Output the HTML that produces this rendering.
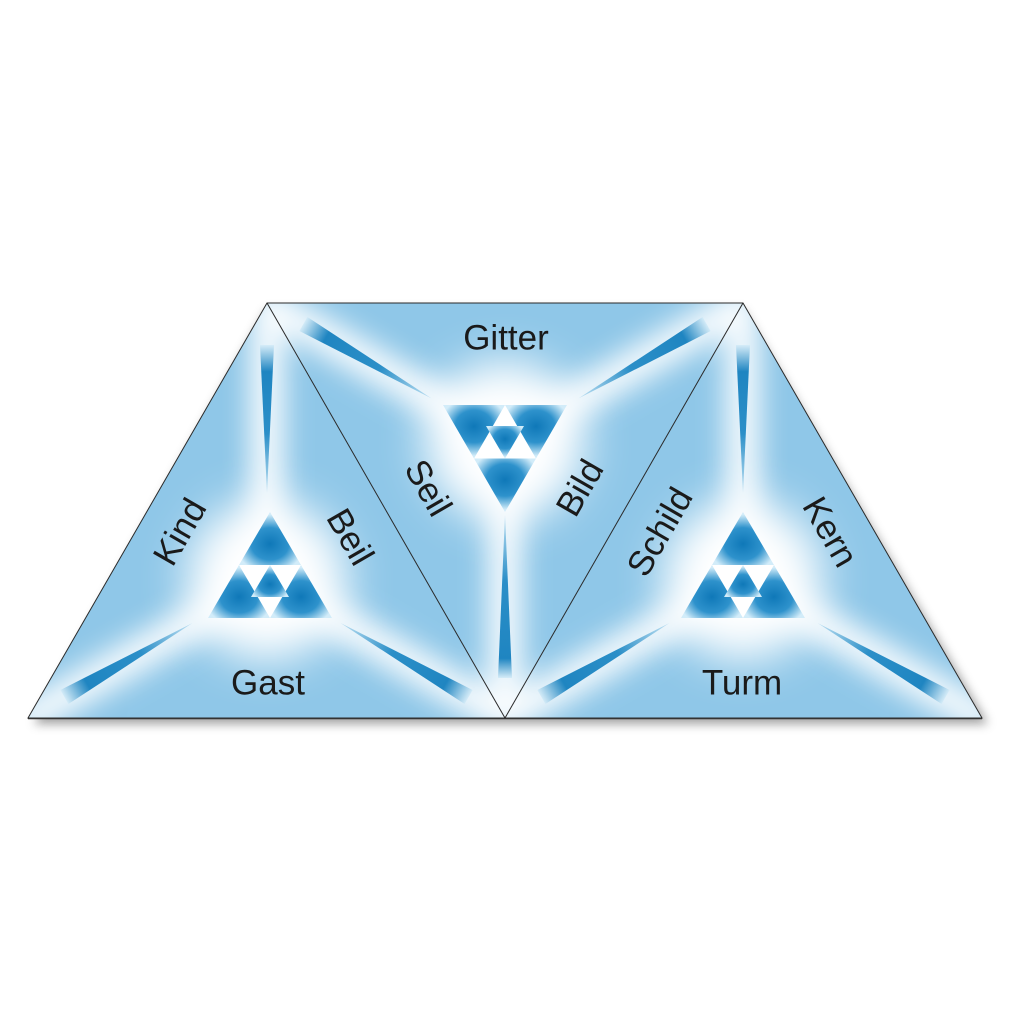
<!DOCTYPE html>
<html><head><meta charset="utf-8"><style>html,body{margin:0;padding:0;background:#fff}svg{display:block}</style></head>
<body>
<svg width="1024" height="1024" viewBox="0 0 1024 1024" xmlns="http://www.w3.org/2000/svg">
<defs>
<filter id="sh" x="-10%" y="-10%" width="120%" height="130%"><feGaussianBlur stdDeviation="5"/></filter>
<filter id="bl" x="-50%" y="-50%" width="200%" height="200%"><feGaussianBlur stdDeviation="14"/></filter>
<filter id="bl2" x="-50%" y="-50%" width="200%" height="200%"><feGaussianBlur stdDeviation="22"/></filter>
<clipPath id="cp"><polygon points="28,718 267,303 743,303 982,718"/></clipPath>
<radialGradient id="mt" cx="50%" cy="60%" r="55%"><stop offset="0" stop-color="#0f78b8"/><stop offset="0.55" stop-color="#2e92cc"/><stop offset="1" stop-color="#d2ecf9"/></radialGradient>
<radialGradient id="mti" cx="50%" cy="40%" r="55%"><stop offset="0" stop-color="#0f78b8"/><stop offset="0.55" stop-color="#2e92cc"/><stop offset="1" stop-color="#d2ecf9"/></radialGradient>
<linearGradient id="g1" gradientUnits="userSpaceOnUse" x1="267" y1="345" x2="267" y2="493"><stop offset="0" stop-color="#d5ecf8"/><stop offset=".18" stop-color="#1f85c1"/><stop offset=".6" stop-color="#2b8fc8"/><stop offset="1" stop-color="#bfe1f3"/></linearGradient>
<linearGradient id="g2" gradientUnits="userSpaceOnUse" x1="64" y1="697" x2="192" y2="623"><stop offset="0" stop-color="#d5ecf8"/><stop offset=".18" stop-color="#1f85c1"/><stop offset=".6" stop-color="#2b8fc8"/><stop offset="1" stop-color="#bfe1f3"/></linearGradient>
<linearGradient id="g3" gradientUnits="userSpaceOnUse" x1="469" y1="697" x2="340" y2="623"><stop offset="0" stop-color="#d5ecf8"/><stop offset=".18" stop-color="#1f85c1"/><stop offset=".6" stop-color="#2b8fc8"/><stop offset="1" stop-color="#bfe1f3"/></linearGradient>
<linearGradient id="g4" gradientUnits="userSpaceOnUse" x1="743" y1="345" x2="743" y2="493"><stop offset="0" stop-color="#d5ecf8"/><stop offset=".18" stop-color="#1f85c1"/><stop offset=".6" stop-color="#2b8fc8"/><stop offset="1" stop-color="#bfe1f3"/></linearGradient>
<linearGradient id="g5" gradientUnits="userSpaceOnUse" x1="541" y1="697" x2="669" y2="623"><stop offset="0" stop-color="#d5ecf8"/><stop offset=".18" stop-color="#1f85c1"/><stop offset=".6" stop-color="#2b8fc8"/><stop offset="1" stop-color="#bfe1f3"/></linearGradient>
<linearGradient id="g6" gradientUnits="userSpaceOnUse" x1="946" y1="697" x2="817" y2="623"><stop offset="0" stop-color="#d5ecf8"/><stop offset=".18" stop-color="#1f85c1"/><stop offset=".6" stop-color="#2b8fc8"/><stop offset="1" stop-color="#bfe1f3"/></linearGradient>
<linearGradient id="g7" gradientUnits="userSpaceOnUse" x1="303" y1="324" x2="431" y2="398"><stop offset="0" stop-color="#d5ecf8"/><stop offset=".18" stop-color="#1f85c1"/><stop offset=".6" stop-color="#2b8fc8"/><stop offset="1" stop-color="#bfe1f3"/></linearGradient>
<linearGradient id="g8" gradientUnits="userSpaceOnUse" x1="707" y1="324" x2="579" y2="398"><stop offset="0" stop-color="#d5ecf8"/><stop offset=".18" stop-color="#1f85c1"/><stop offset=".6" stop-color="#2b8fc8"/><stop offset="1" stop-color="#bfe1f3"/></linearGradient>
<linearGradient id="g9" gradientUnits="userSpaceOnUse" x1="505" y1="678" x2="505" y2="515"><stop offset="0" stop-color="#d5ecf8"/><stop offset=".12" stop-color="#1f85c1"/><stop offset=".6" stop-color="#2b8fc8"/><stop offset="1" stop-color="#bfe1f3"/></linearGradient>
</defs>

<polygon points="34,724 267,310 743,310 988,724" fill="#555" opacity="0.55" filter="url(#sh)"/>
<polygon points="28,718 267,303 743,303 982,718" fill="#8fc7e8"/>

<g clip-path="url(#cp)">
  <g filter="url(#bl)" stroke="#fff" stroke-width="34" stroke-linecap="round" opacity="0.95">
    <line x1="267" y1="303" x2="267" y2="580"/>
    <line x1="28" y1="718" x2="267" y2="580"/>
    <line x1="505" y1="718" x2="267" y2="580"/>
    <line x1="743" y1="303" x2="743" y2="580"/>
    <line x1="505" y1="718" x2="743" y2="580"/>
    <line x1="982" y1="718" x2="743" y2="580"/>
    <line x1="267" y1="303" x2="505" y2="441"/>
    <line x1="743" y1="303" x2="505" y2="441"/>
    <line x1="505" y1="718" x2="505" y2="441"/>
  </g>
  <g filter="url(#bl2)" fill="#fff">
    <circle cx="267" cy="580" r="80"/>
    <circle cx="743" cy="580" r="80"/>
    <circle cx="505" cy="441" r="80"/>
  </g>
</g>

<polygon points="260,345 274,345 267,493" fill="url(#g1)"/>
<polygon points="60.4,690 68.4,704 192.5,623" fill="url(#g2)"/>
<polygon points="472.6,690 464.6,704 340.5,623" fill="url(#g3)"/>
<polygon points="736,345 750,345 743,493" fill="url(#g4)"/>
<polygon points="537.4,690 545.4,704 669.5,623" fill="url(#g5)"/>
<polygon points="949.6,690 941.6,704 817.5,623" fill="url(#g6)"/>
<polygon points="307.4,317 299.4,331 431.5,398.4" fill="url(#g7)"/>
<polygon points="702.6,317 710.6,331 578.5,398.4" fill="url(#g8)"/>
<polygon points="498,678 512,678 505,515" fill="url(#g9)"/>

<g>
  <polygon points="270,512 208,618 332,618" fill="#fff"/>
  <polygon points="270,512 239,565 301,565" fill="url(#mt)"/>
  <polygon points="239,565 208,618 270,618" fill="url(#mt)"/>
  <polygon points="301,565 270,618 332,618" fill="url(#mt)"/>
  <polygon points="270,565 251,597 289,597" fill="url(#mt)"/>
</g>
<g>
  <polygon points="743,512 681,618 805,618" fill="#fff"/>
  <polygon points="743,512 712,565 774,565" fill="url(#mt)"/>
  <polygon points="712,565 681,618 743,618" fill="url(#mt)"/>
  <polygon points="774,565 743,618 805,618" fill="url(#mt)"/>
  <polygon points="743,565 724,597 762,597" fill="url(#mt)"/>
</g>
<g>
  <polygon points="443,405 567,405 505,512" fill="#fff"/>
  <polygon points="443,405 505,405 474,458.5" fill="url(#mti)"/>
  <polygon points="505,405 567,405 536,458.5" fill="url(#mti)"/>
  <polygon points="474,458.5 536,458.5 505,512" fill="url(#mti)"/>
  <polygon points="486,426 524,426 505,458.5" fill="url(#mti)"/>
</g>

<g fill="none" stroke="#2a2a2a" stroke-width="1">
  <polygon points="28,718 267,303 743,303 982,718"/>
  <line x1="267" y1="303" x2="505" y2="718"/>
  <line x1="743" y1="303" x2="505" y2="718"/>
</g>
<line x1="28" y1="718.5" x2="982" y2="718.5" stroke="#333" stroke-width="1.5"/>

<g font-family="Liberation Sans, Arial, sans-serif" font-size="35" fill="#1a1a1a" text-anchor="middle" dominant-baseline="central">
  <text x="506" y="338">Gitter</text>
  <text x="268" y="683">Gast</text>
  <text x="742" y="683">Turm</text>
  <text transform="translate(180,532) rotate(-60)">Kind</text>
  <text transform="translate(350,537) rotate(60)">Beil</text>
  <text transform="translate(428,488) rotate(60)">Seil</text>
  <text transform="translate(580,488) rotate(-60)">Bild</text>
  <text transform="translate(660,532) rotate(-60)">Schild</text>
  <text transform="translate(830,532) rotate(60)">Kern</text>
</g>
</svg>
</body></html>
